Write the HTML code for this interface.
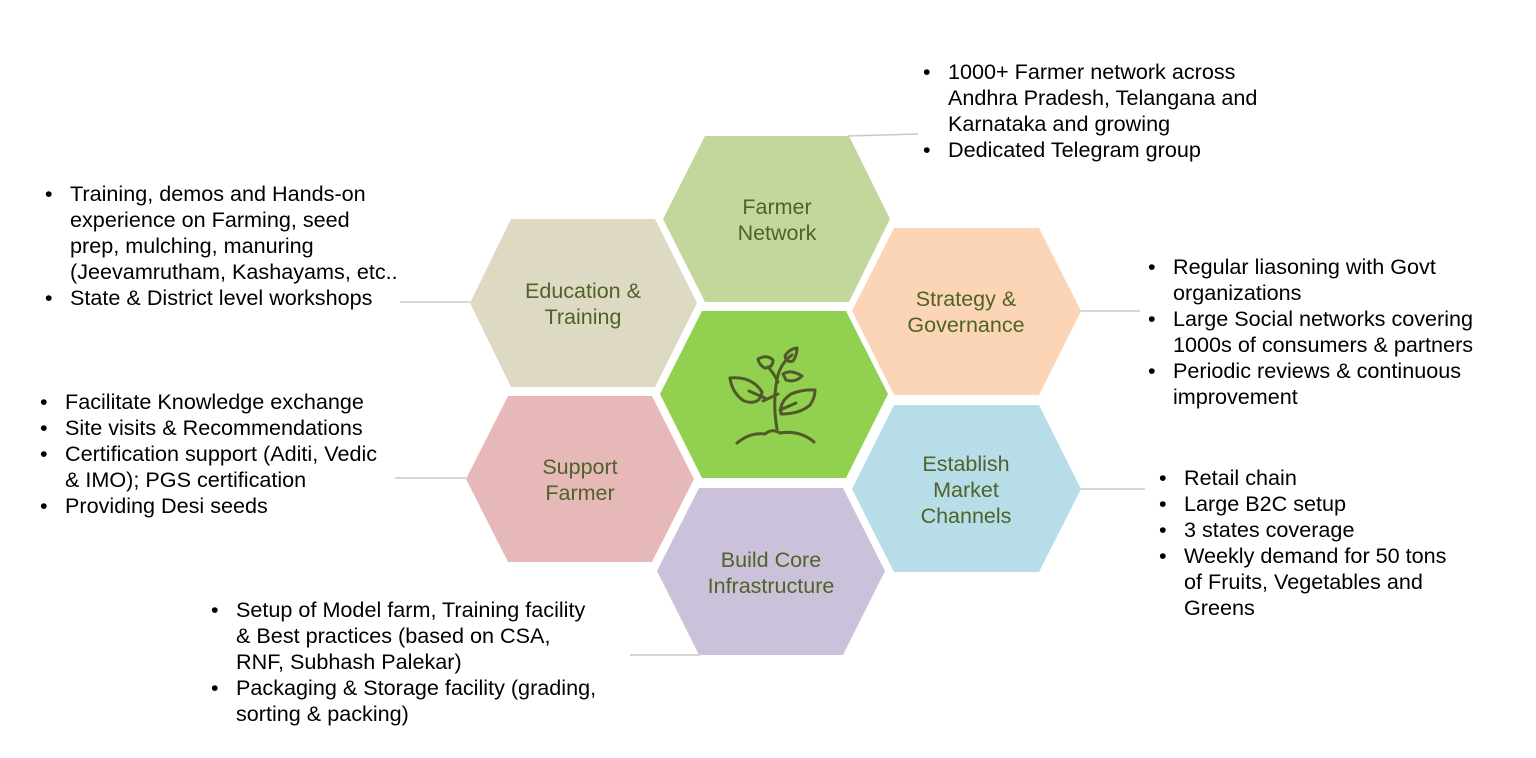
<!DOCTYPE html>
<html><head><meta charset="utf-8"><style>
html,body{margin:0;padding:0;background:#fff;}
body{width:1536px;height:758px;position:relative;overflow:hidden;font-family:"Liberation Sans",Arial,sans-serif;}
.t{position:absolute;font-size:21.6px;line-height:26px;color:#000;white-space:nowrap;}
.t div{position:relative;padding-left:27px;}
.t div.b:before{content:"•";position:absolute;left:2px;}
</style></head><body>
<svg width="1536" height="758" style="position:absolute;left:0;top:0" font-family="Liberation Sans, Arial, sans-serif">
<g stroke="#c8c8c8" stroke-width="1.5" fill="none">
<line x1="848" y1="136" x2="918" y2="134"/>
<line x1="400" y1="302" x2="470" y2="302"/>
<line x1="1081" y1="311" x2="1140" y2="311"/>
<line x1="395" y1="478" x2="466" y2="478"/>
<line x1="1080" y1="489" x2="1145" y2="489"/>
<line x1="630" y1="655" x2="700" y2="655"/>
</g>
<polygon points="663,219 705,136 849,136 890,219 849,302 705,302" fill="#c3d69b"/>
<polygon points="470,303 511,219 655,219 697,303 655,387 511,387" fill="#ddd9c3"/>
<polygon points="852,311 894,228 1039,228 1081,311 1039,395 894,395" fill="#fbd5b5"/>
<polygon points="660,394 702,311 846,311 888,394 846,478 702,478" fill="#92d050"/>
<polygon points="466,479 508,396 652,396 694,479 652,562 508,562" fill="#e6b9b8"/>
<polygon points="852,489 894,405 1039,405 1081,489 1039,572 894,572" fill="#b7dde8"/>
<polygon points="657,571 699,488 843,488 885,571 843,655 699,655" fill="#ccc1da"/>
<g fill="#4f6228" font-size="21.5" text-anchor="middle">
<text x="777" y="214">Farmer</text><text x="777" y="240">Network</text>
<text x="583" y="298">Education &amp;</text><text x="583" y="324">Training</text>
<text x="966" y="306">Strategy &amp;</text><text x="966" y="332">Governance</text>
<text x="580" y="474">Support</text><text x="580" y="500">Farmer</text>
<text x="966" y="471">Establish</text><text x="966" y="497">Market</text><text x="966" y="523">Channels</text>
<text x="771" y="567">Build Core</text><text x="771" y="593">Infrastructure</text>
</g>
<g stroke="#4f5a28" stroke-width="3" fill="none" stroke-linecap="round" stroke-linejoin="round">
<path d="M737,443 Q750,432 765,434 Q772,428 780,433 Q800,430 814,442"/>
<path d="M777,429 Q772,400 778,375 Q782,362 792,355"/>
<path d="M778,382 Q773,372 768,367"/>
<path d="M778,394 L763,401"/>
<path d="M730,378 Q752,376 762,392 Q760,406 744,401 Q732,393 730,378 Z"/>
<path d="M749,391 L765,398"/>
<path d="M815,390 Q803,389 791,394 Q779,402 781,414 Q800,414 810,405 Q815,398 815,390 Z"/>
<path d="M780,410 L796,403"/>
<path d="M758,359 Q767,354 773,360 Q773,368 765,368 Q759,365 758,359 Z"/>
<path d="M797,348 Q789,349 785,356 Q786,363 793,361 Q797,355 797,348 Z"/>
<path d="M783,374 Q791,369 802,376 Q795,383 786,380 Z"/>
</g>
</svg>
<div class="t" style="left:921px;top:59px;">
<div class="b">1000+ Farmer network across<br>Andhra Pradesh, Telangana and<br>Karnataka and growing</div>
<div class="b">Dedicated Telegram group</div></div>
<div class="t" style="left:43px;top:181px;">
<div class="b">Training, demos and Hands-on<br>experience on Farming, seed<br>prep, mulching, manuring<br>(Jeevamrutham, Kashayams, etc..</div>
<div class="b">State &amp; District level workshops</div></div>
<div class="t" style="left:1146px;top:254px;">
<div class="b">Regular liasoning with Govt<br>organizations</div>
<div class="b">Large Social networks covering<br>1000s of consumers &amp; partners</div>
<div class="b">Periodic reviews &amp; continuous<br>improvement</div></div>
<div class="t" style="left:38px;top:389px;">
<div class="b">Facilitate Knowledge exchange</div>
<div class="b">Site visits &amp; Recommendations</div>
<div class="b">Certification support (Aditi, Vedic<br>&amp; IMO); PGS certification</div>
<div class="b">Providing Desi seeds</div></div>
<div class="t" style="left:1157px;top:465px;">
<div class="b">Retail chain</div>
<div class="b">Large B2C setup</div>
<div class="b">3 states coverage</div>
<div class="b">Weekly demand for 50 tons<br>of Fruits, Vegetables and<br>Greens</div></div>
<div class="t" style="left:209px;top:597px;">
<div class="b">Setup of Model farm, Training facility<br>&amp; Best practices (based on CSA,<br>RNF, Subhash Palekar)</div>
<div class="b">Packaging &amp; Storage facility (grading,<br>sorting &amp; packing)</div></div>
</body></html>
